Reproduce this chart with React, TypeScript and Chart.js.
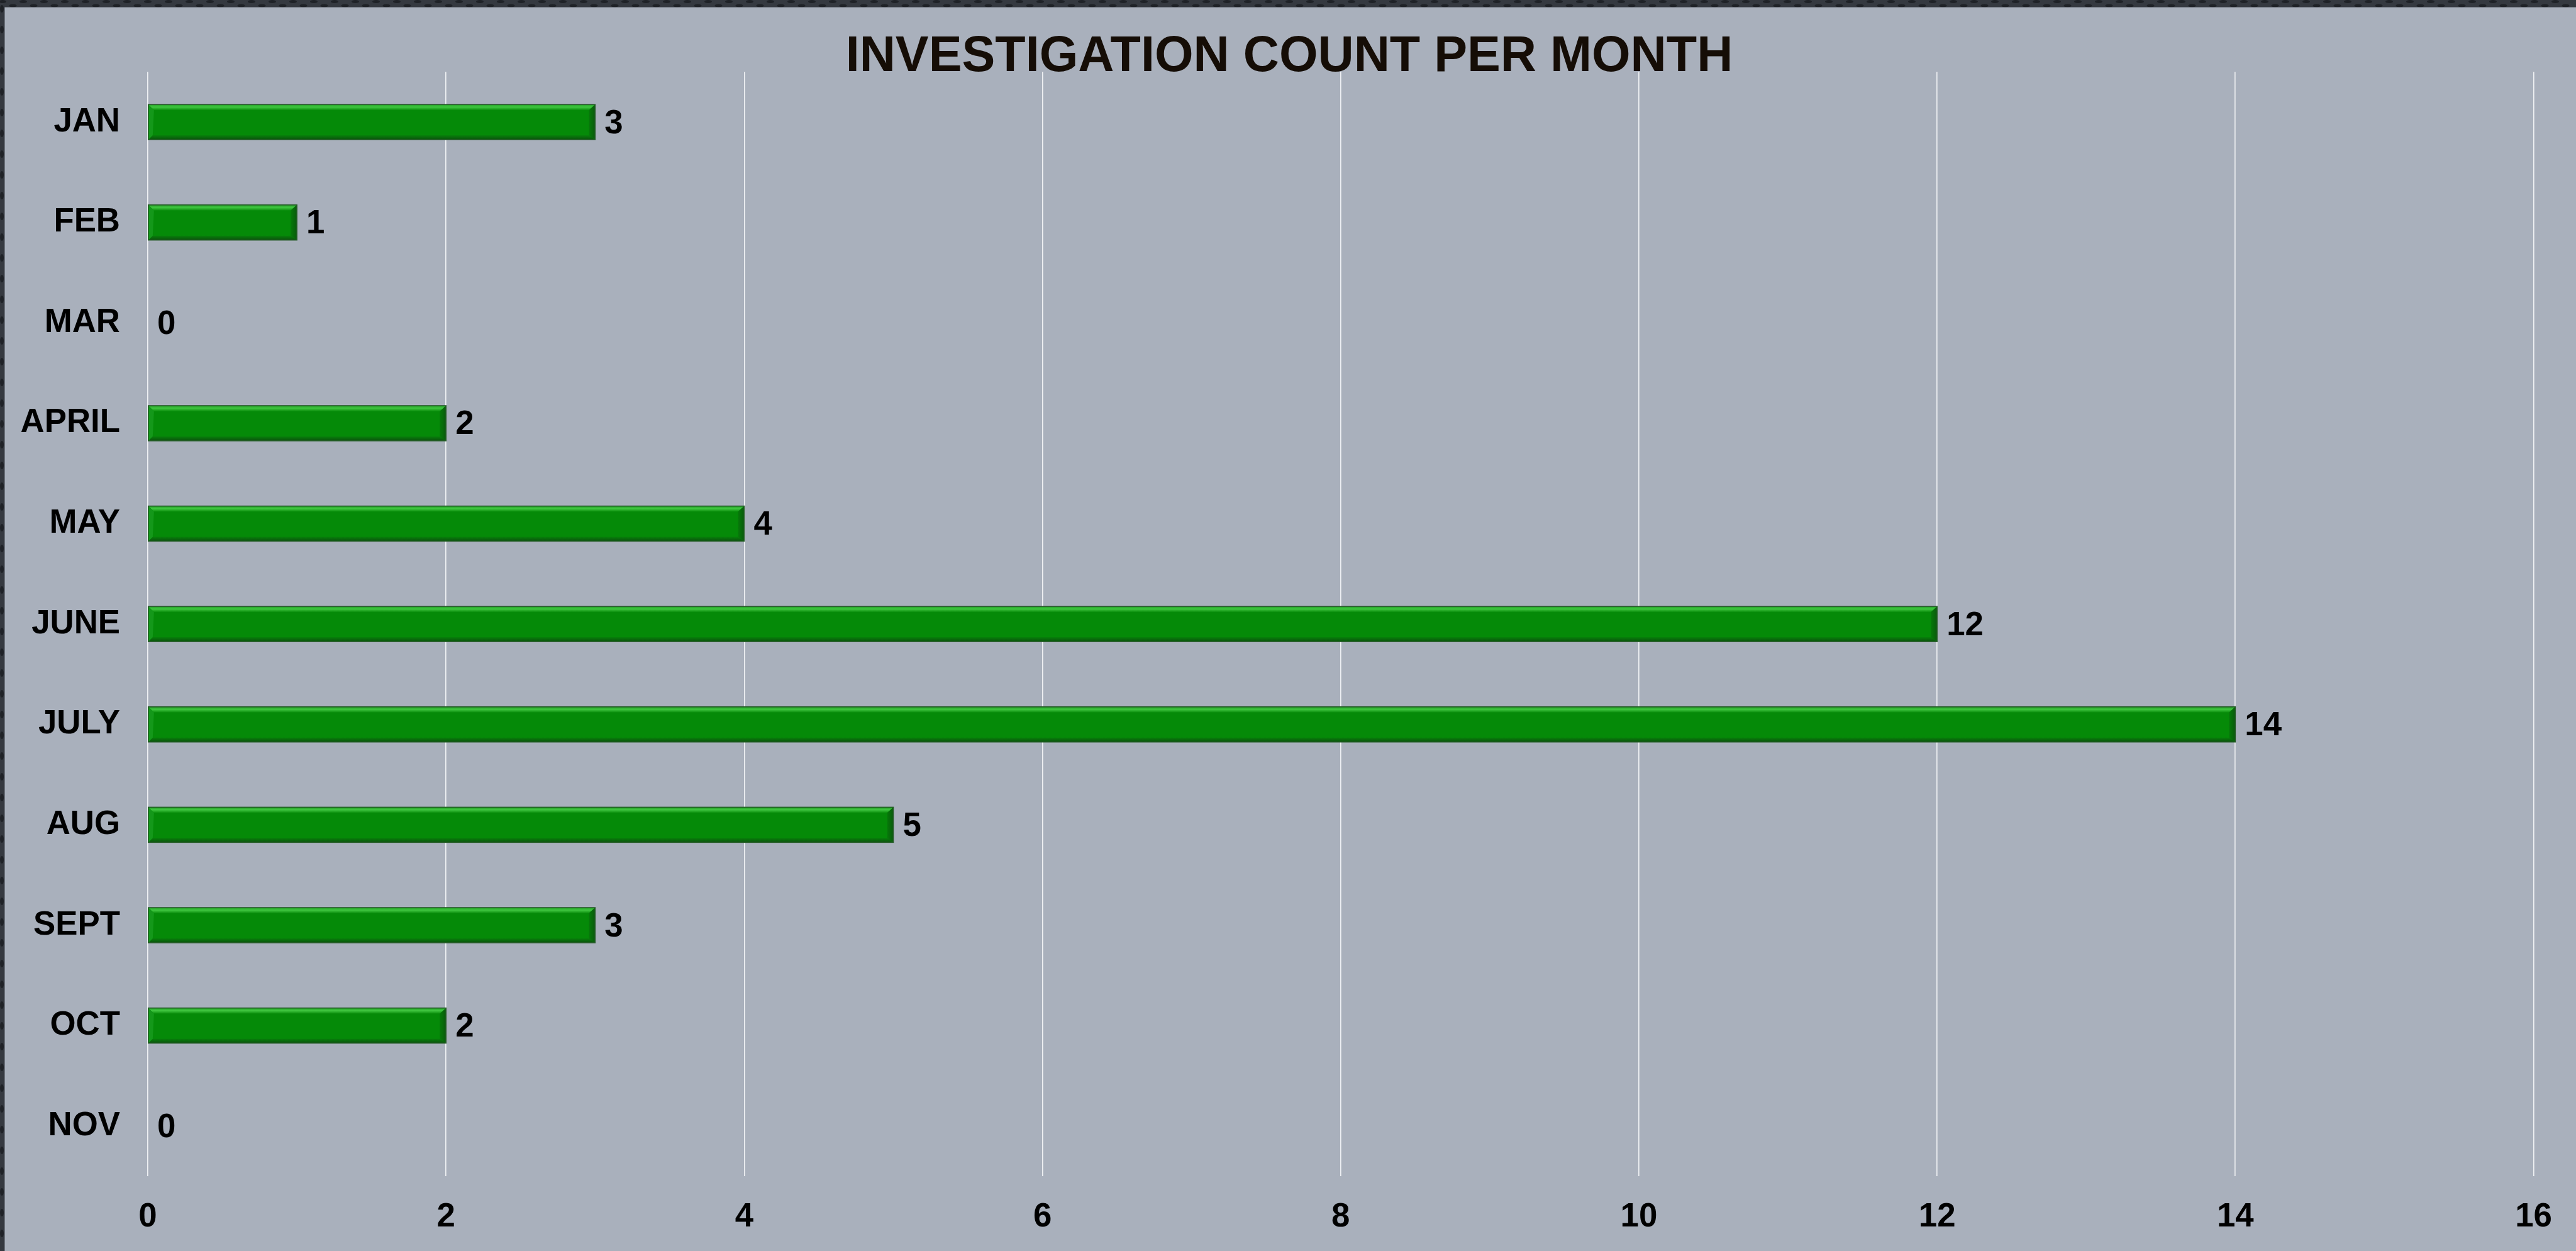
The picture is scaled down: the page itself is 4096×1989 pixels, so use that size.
import React, { useEffect, useRef } from "react";
import { Chart, registerables } from "chart.js";

Chart.register(...registerables);

const months = ["JAN", "FEB", "MAR", "APRIL", "MAY", "JUNE", "JULY", "AUG", "SEPT", "OCT", "NOV"];
const counts = [3, 1, 0, 2, 4, 12, 14, 5, 3, 2, 0];
const xMin = 0;
const xMax = 16;
const xStep = 2;
const chartTitle = "INVESTIGATION COUNT PER MONTH";

const S = 0.825;
const W = 4096;
const H = 1989;
const FONT = "'Liberation Sans', Arial, Helvetica, sans-serif";

const framePlugin = {
  id: "frame",
  beforeDraw(chart: any) {
    const { ctx, width, height } = chart;
    ctx.save();
    ctx.fillStyle = "#353940";
    ctx.fillRect(0, 0, width, height);
    ctx.fillStyle = "#1f2227";
    const step = 40 * S;
    for (let x = 4; x < width; x += step) {
      ctx.beginPath();
      ctx.ellipse(x, 2.5, 6, 2.5, 0, 0, Math.PI * 2);
      ctx.fill();
      ctx.beginPath();
      ctx.ellipse(x + step / 2, 9, 6, 2.5, 0, 0, Math.PI * 2);
      ctx.fill();
    }
    for (let y = 14; y < height; y += step) {
      ctx.beginPath();
      ctx.ellipse(3, y, 3, 6, 0, 0, Math.PI * 2);
      ctx.fill();
    }
    ctx.fillStyle = "#a9b0bc";
    ctx.fillRect(9 * S, 14 * S, width, height);
    ctx.restore();
  },
};

const titlePlugin = {
  id: "centredTitle",
  afterDraw(chart: any) {
    const { ctx } = chart;
    ctx.save();
    ctx.font = `bold ${96 * S}px ${FONT}`;
    ctx.fillStyle = "#150d06";
    ctx.textAlign = "center";
    ctx.textBaseline = "alphabetic";
    ctx.fillText(chartTitle, 2050, 113);
    ctx.restore();
  },
};

const bevelPlugin = {
  id: "bevel",
  afterDatasetsDraw(chart: any) {
    const { ctx } = chart;
    const meta = chart.getDatasetMeta(0);
    ctx.save();
    meta.data.forEach((el: any, i: number) => {
      if (counts[i] <= 0) return;
      const { x, y, base, height } = el.getProps(["x", "y", "base", "height"], true);
      const top = y - height / 2;
      const bot = y + height / 2;
      const left = Math.min(base, x);
      const right = Math.max(base, x);
      const bt = 9;
      const bb = 7;
      const br = 10;
      const gt = ctx.createLinearGradient(0, top, 0, top + bt);
      gt.addColorStop(0, "#22a025");
      gt.addColorStop(0.45, "#40c640");
      gt.addColorStop(1, "#0a8e0c");
      ctx.fillStyle = gt;
      ctx.beginPath();
      ctx.moveTo(left, top);
      ctx.lineTo(right, top);
      ctx.lineTo(right - br, top + bt);
      ctx.lineTo(left + bt, top + bt);
      ctx.closePath();
      ctx.fill();
      const gb = ctx.createLinearGradient(0, bot - bb, 0, bot);
      gb.addColorStop(0, "#07800a");
      gb.addColorStop(1, "#0b520d");
      ctx.fillStyle = gb;
      ctx.beginPath();
      ctx.moveTo(left, bot);
      ctx.lineTo(right, bot);
      ctx.lineTo(right - br, bot - bb);
      ctx.lineTo(left + bb, bot - bb);
      ctx.closePath();
      ctx.fill();
      const gr = ctx.createLinearGradient(right - br, 0, right, 0);
      gr.addColorStop(0, "#067a09");
      gr.addColorStop(1, "#0a5a0c");
      ctx.fillStyle = gr;
      ctx.beginPath();
      ctx.moveTo(right, top);
      ctx.lineTo(right, bot);
      ctx.lineTo(right - br, bot - bb);
      ctx.lineTo(right - br, top + bt);
      ctx.closePath();
      ctx.fill();
      ctx.fillStyle = "#14981a";
      ctx.beginPath();
      ctx.moveTo(left, top);
      ctx.lineTo(left + bt, top + bt);
      ctx.lineTo(left + bb, bot - bb);
      ctx.lineTo(left, bot);
      ctx.closePath();
      ctx.fill();
      ctx.strokeStyle = "#245c26";
      ctx.lineWidth = 1.6;
      ctx.strokeRect(left, top, right - left, bot - top);
    });
    ctx.restore();
  },
};

const labelPlugin = {
  id: "valueLabels",
  afterDatasetsDraw(chart: any) {
    const { ctx } = chart;
    const meta = chart.getDatasetMeta(0);
    ctx.save();
    ctx.font = `bold ${64 * S}px ${FONT}`;
    ctx.fillStyle = "#000000";
    ctx.textAlign = "left";
    ctx.textBaseline = "middle";
    meta.data.forEach((el: any, i: number) => {
      const { x, y } = el.getProps(["x", "y"], true);
      ctx.fillText(String(counts[i]), x + 15, y + 3);
    });
    ctx.restore();
  },
};

export default function App() {
  const canvasRef = useRef<HTMLCanvasElement | null>(null);

  useEffect(() => {
    document.body.style.margin = "0";
    document.body.style.overflow = "hidden";
    const canvas = canvasRef.current;
    if (!canvas) return;
    const chart = new Chart(canvas, {
      type: "bar",
      data: {
        labels: months,
        datasets: [
          {
            label: "Investigations",
            data: counts,
            backgroundColor: "#058a08",
            borderColor: "#245c26",
            borderWidth: 1.6,
            borderSkipped: false,
            categoryPercentage: 1,
            barPercentage: 0.35,
          },
        ],
      },
      options: {
        indexAxis: "y",
        responsive: false,
        animation: false,
        devicePixelRatio: 1,
        layout: { padding: { left: 0, right: 67.5, top: 114.3, bottom: 0 } },
        plugins: {
          legend: { display: false },
          tooltip: { enabled: false },
          title: { display: false },
        },
        scales: {
          x: {
            type: "linear",
            min: xMin,
            max: xMax,
            ticks: {
              stepSize: xStep,
              color: "#000000",
              padding: 34,
              font: { family: FONT, size: 64 * S, weight: "bold" },
            },
            grid: { display: true, color: "#eef0f3", lineWidth: 1.65, drawTicks: false },
            border: { display: false },
            afterFit(scale: any) {
              scale.height = 119;
            },
          },
          y: {
            ticks: {
              color: "#000000",
              padding: 44,
              font: { family: FONT, size: 64 * S, weight: "bold" },
            },
            grid: { display: false, drawTicks: false },
            border: { display: false },
            afterFit(scale: any) {
              scale.width = 235;
            },
          },
        },
      },
      plugins: [framePlugin, bevelPlugin, labelPlugin, titlePlugin],
    });
    return () => chart.destroy();
  }, []);

  return (
    <div style={{ position: "fixed", left: 0, top: 0, width: W, height: H }}>
      <canvas ref={canvasRef} width={W} height={H} style={{ width: W, height: H, display: "block" }} />
    </div>
  );
}
